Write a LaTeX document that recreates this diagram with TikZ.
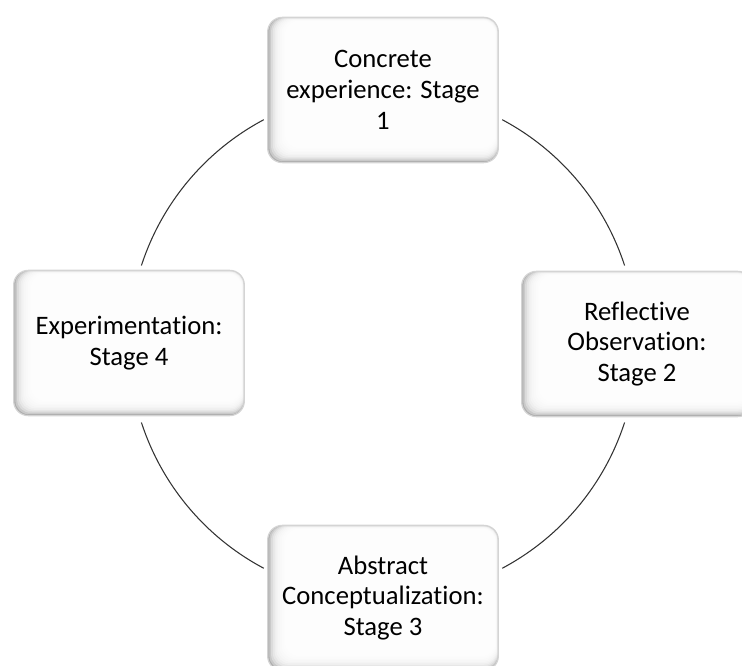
\documentclass[tikz,border=0pt]{standalone}
\usepackage{fontspec}
\setmainfont[Ligatures=NoCommon]{Carlito}
\usepackage{tikz}
\newcommand{\stagefont}{\fontsize{20}{23}\selectfont}
\newcommand{\ringr}{254}
\tikzset{
  stagebox/.style={rounded corners=11pt, draw=black!17, line width=0.9pt, fill=black!32,
    minimum width=173pt, minimum height=109pt, align=center, font=\stagefont,
    path picture={
      % soft inner shade on the left and bottom edges
      \foreach \k in {1,...,10}
        \fill[white, opacity=0.35, rounded corners=10pt]
          ([shift={(1.3*\k pt,1.1*\k pt)}]path picture bounding box.south west)
          rectangle ([shift={(-0.2*\k pt,-0.25*\k pt)}]path picture bounding box.north east);
    }},
  ring/.style={draw=black!80, line width=0.8pt}
}

\begin{document}
\begin{tikzpicture}[x=0.75pt,y=0.75pt]
  \useasboundingbox (0,0) rectangle (742,666);
  \clip (0,0) rectangle (742,666);
  \coordinate (c) at (383,322);

  % the cycle behind the four stages
  \foreach \s/\e in {62/18, 342/298, 242/198, 162/118}
    \draw[ring] ([shift={(\s:\ringr)}]c) arc[start angle=\s, end angle=\e, radius=\ringr];

  \node[stagebox] (concrete) at (383,576) {Concrete\\experience: Stage\\1};
  \node[stagebox] (reflective) at (637,322) {Reflective\\Observation:\\Stage 2};
  \node[stagebox] (abstract) at (383,68) {Abstract\\Conceptualization:\\Stage 3};
  \node[stagebox] (experiment) at (129,323) {Experimentation:\\Stage 4};
\end{tikzpicture}
\end{document}
